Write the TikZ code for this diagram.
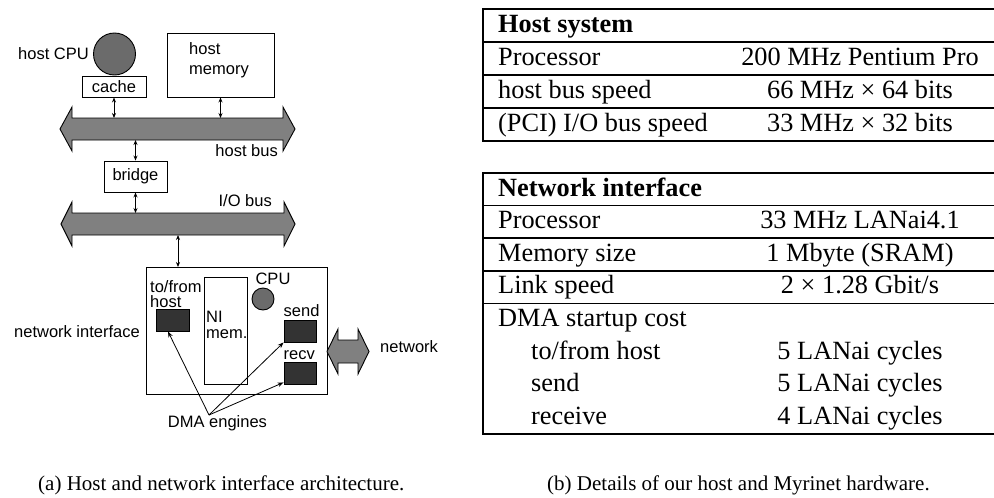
\documentclass[tikz,border=0pt]{standalone}
\usepackage{fontspec}
\setmainfont{Liberation Serif}
\setsansfont{Liberation Sans}
\usetikzlibrary{arrows.meta}
\definecolor{busgray}{gray}{0.5}
\definecolor{cpugray}{gray}{0.42}
\definecolor{darkbox}{gray}{0.2}
\newcommand\busarrow[3]{% node name, tip extension, flare
  \path[draw, fill=busgray, line width=0.9pt]
    ([xshift=-#2]#1.west) -- ([yshift=#3]#1.north west) -- (#1.north west) --
    (#1.north east) -- ([yshift=#3]#1.north east) -- ([xshift=#2]#1.east) --
    ([yshift=-#3]#1.south east) -- (#1.south east) -- (#1.south west) --
    ([yshift=-#3]#1.south west) -- cycle;}
\begin{document}
\begin{tikzpicture}[x=1pt,y=-1pt,
  lbl/.style={font=\sffamily\fontsize{16.5}{18}\selectfont, inner sep=0pt},
  box/.style={draw, line width=0.9pt, inner sep=0pt},
  dark/.style={box, fill=darkbox},
  busbody/.style={inner sep=0pt, outer sep=0pt},
  bidir/.style={{Stealth[length=5pt,width=4pt]}-{Stealth[length=5pt,width=4pt]}, line width=0.8pt},
  dmaarrow/.style={-{Stealth[length=6pt,width=4.5pt]}, line width=0.8pt},
  tab/.style={font=\fontsize{26.3}{32}\selectfont, inner sep=0pt},
  tabrule/.style={line width=1.6pt},
  captxt/.style={font=\fontsize{21}{24}\selectfont, inner sep=0pt}]
\useasboundingbox (0,0) rectangle (994,498);

% ---------- (a) architecture ----------
\node[box, circle, fill=cpugray, minimum size=42pt] (hostcpu) at (114.5,54) {};
\node[lbl, anchor=east] (hostcpulbl) at (89,54) {host CPU};
\node[box, minimum width=64pt, minimum height=21pt, font=\sffamily\fontsize{16.5}{18}\selectfont] (cache) at (114,86.5) {cache};
\node[box, minimum width=107pt, minimum height=64pt] (hostmem) at (220.5,65) {};
\node[lbl, anchor=west, align=left, font=\sffamily\fontsize{16.5}{20}\selectfont] (hostmemlbl) at (189,60) {host\\memory};

\node[busbody, minimum width=211pt, minimum height=22pt] (hostbus) at (177.5,129) {};
\busarrow{hostbus}{12pt}{11pt}
\node[lbl, anchor=east] (hostbuslbl) at (278,151) {host bus};

\draw[bidir] (cache.south) -- (cache.south |- hostbus.north);
\draw[bidir] (hostmem.south) -- (hostmem.south |- hostbus.north);

\node[box, minimum width=63pt, minimum height=31pt, font=\sffamily\fontsize{16.5}{18}\selectfont] (bridge) at (135.5,176.5) {bridge};
\node[busbody, minimum width=212pt, minimum height=22pt] (iobus) at (178,224) {};
\busarrow{iobus}{11pt}{11pt}
\node[lbl, anchor=east] (iobuslbl) at (272,201) {I/O bus};

\draw[bidir] (hostbus.south -| bridge.north) -- (bridge.north);
\draw[bidir] (bridge.south) -- (bridge.south |- iobus.north);

% network interface board
\node[box, minimum width=181pt, minimum height=127pt] (ni) at (236.5,330.5) {};
\node[lbl, anchor=east] (nilbl) at (140,332) {network interface};
\coordinate (niin) at (178,267);
\draw[bidir] (niin |- iobus.south) -- (niin);

\node[lbl, anchor=west, align=left, font=\sffamily\fontsize{16.5}{15}\selectfont] (tofromlbl) at (150,294.5) {to/from\\host};
\node[dark, minimum width=33pt, minimum height=22pt] (tofrom) at (172.5,320) {};
\node[box, minimum width=43pt, minimum height=107pt] (nimem) at (225.5,330.5) {};
\node[lbl, anchor=west, align=left, font=\sffamily\fontsize{16.5}{16}\selectfont] (nimemlbl) at (206,325) {NI\\mem.};
\node[lbl] (nicpulbl) at (273,279) {CPU};
\node[box, circle, fill=cpugray, minimum size=22pt] (nicpu) at (263,299) {};
\node[lbl, anchor=west] (sendlbl) at (283.5,311) {send};
\node[dark, minimum width=32pt, minimum height=22pt] (send) at (300,331) {};
\node[lbl, anchor=west] (recvlbl) at (283.5,355) {recv};
\node[dark, minimum width=32pt, minimum height=22pt] (recv) at (300,373) {};

\node[busbody, minimum width=20pt, minimum height=23pt] (net) at (348,351.5) {};
\busarrow{net}{11pt}{11pt}
\node[lbl, anchor=west] (netlbl) at (380,347) {network};

\node[lbl] (dmalbl) at (217.5,423) {DMA engines};
\coordinate (dma) at (209,415);
\draw[dmaarrow] (dma) -- ([xshift=-4.5pt]tofrom.south);
\draw[dmaarrow] (dma) -- (send.south west);
\draw[dmaarrow] (dma) -- ([yshift=2pt]recv.south west);

% ---------- (b) tables ----------
\draw[tabrule] (994,9) -- (483,9) -- (483,141) -- (994,141);
\foreach \y in {42,75,108} \draw[tabrule] (483,\y) -- (994,\y);
\node[tab, anchor=base west] (t1h) at (498,32) {\textbf{Host system}};
\node[tab, anchor=base west] (t1a1) at (498,65) {Processor};
\node[tab, anchor=base] (t1b1) at (860,65) {200 MHz Pentium Pro};
\node[tab, anchor=base west] (t1a2) at (498,98) {host bus speed};
\node[tab, anchor=base] (t1b2) at (860,98) {66 MHz × 64 bits};
\node[tab, anchor=base west] (t1a3) at (498,131) {(PCI) I/O bus speed};
\node[tab, anchor=base] (t1b3) at (860,131) {33 MHz × 32 bits};

\draw[tabrule] (994,173) -- (483,173) -- (483,433.8) -- (994,433.8);
\foreach \y in {205.6,238.2,270.8,303.4} \draw[tabrule] (483,\y) -- (994,\y);
\node[tab, anchor=base west] (t2h) at (498,196) {\textbf{Network interface}};
\node[tab, anchor=base west] (t2a1) at (498,228.6) {Processor};
\node[tab, anchor=base] (t2b1) at (860,228.6) {33 MHz LANai4.1};
\node[tab, anchor=base west] (t2a2) at (498,261.2) {Memory size};
\node[tab, anchor=base] (t2b2) at (860,261.2) {1 Mbyte (SRAM)};
\node[tab, anchor=base west] (t2a3) at (498,293.8) {Link speed};
\node[tab, anchor=base] (t2b3) at (860,293.8) {2 × 1.28 Gbit/s};
\node[tab, anchor=base west] (t2a4) at (498,326.4) {DMA startup cost};
\node[tab, anchor=base west] (t2a5) at (531,359) {to/from host};
\node[tab, anchor=base] (t2b5) at (860,359) {5 LANai cycles};
\node[tab, anchor=base west] (t2a6) at (531,391.6) {send};
\node[tab, anchor=base] (t2b6) at (860,391.6) {5 LANai cycles};
\node[tab, anchor=base west] (t2a7) at (531,424.2) {receive};
\node[tab, anchor=base] (t2b7) at (860,424.2) {4 LANai cycles};

% ---------- captions ----------
\node[captxt, anchor=base west] (capa) at (38,490) {(a) Host and network interface architecture.};
\node[captxt, anchor=base west] (capb) at (547,490) {(b) Details of our host and Myrinet hardware.};
\end{tikzpicture}
\end{document}
